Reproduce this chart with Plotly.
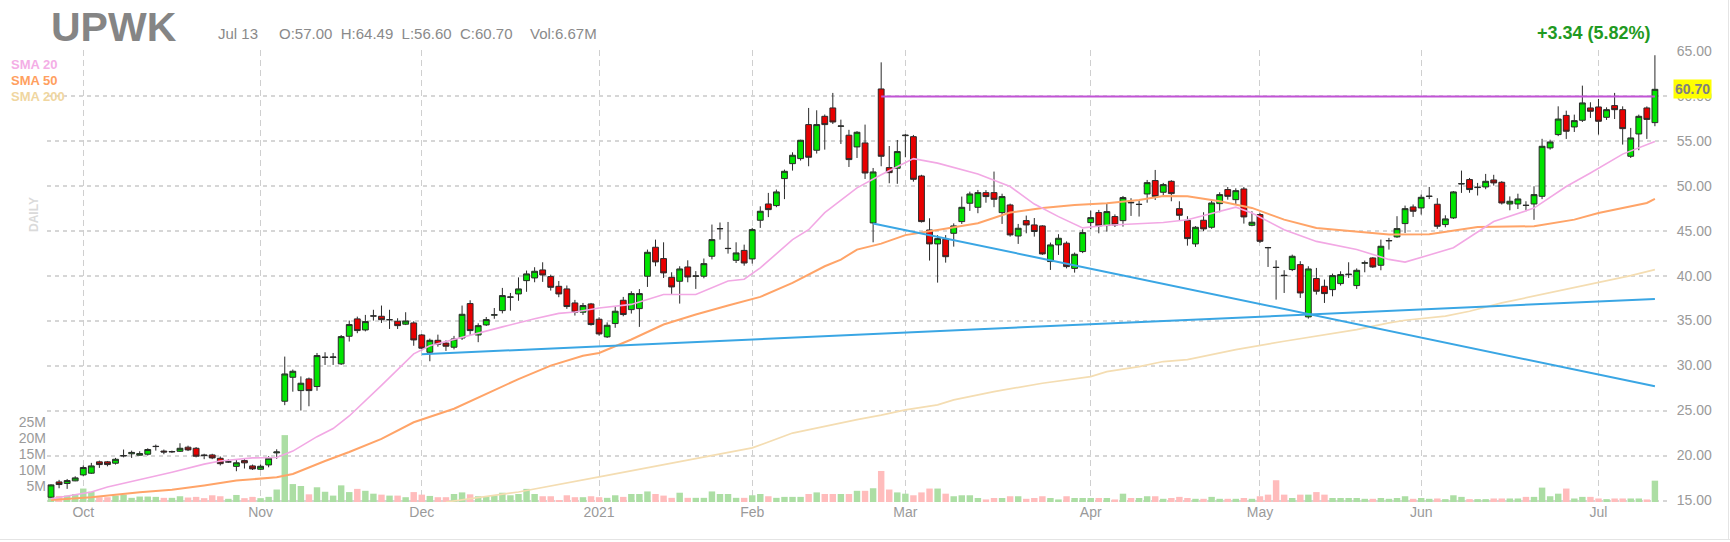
import pandas as pd
import plotly.graph_objects as go

# ---------------- data ----------------
holidays = ['2020-11-26', '2020-12-25', '2021-01-01', '2021-01-18',
            '2021-02-15', '2021-04-02', '2021-05-31']
dates = [d for d in pd.bdate_range('2020-09-25', '2021-07-13')
         if d.strftime('%Y-%m-%d') not in holidays]

opens = [15.37, 17.07, 16.9, 17.19, 17.85, 18.04, 19.3, 19.3, 19.15, 19.95,
         20.2, 20.04, 20.15, 21.0, 20.5, 20.4, 20.48, 20.93, 20.81, 20.07,
         20.07, 19.7, 19.3, 18.8, 19.44, 18.85, 18.48, 18.96, 20.3, 26.04,
         28.7, 27.22, 28.52, 27.67, 30.9, 30.9, 30.19, 33.26, 35.19, 33.96,
         35.5, 35.48, 35.1, 34.93, 34.6, 34.74, 33.4, 31.48, 32.81, 32.5,
         32.04, 33.07, 36.89, 33.4, 34.52, 35.6, 36.11, 37.6, 37.96, 39.44,
         39.74, 40.63, 39.89, 38.81, 38.52, 36.96, 35.93, 36.85, 35.15, 33.19,
         34.67, 37.26, 36.22, 36.33, 39.93, 43.15, 41.89, 39.81, 39.37, 40.96,
         39.93, 39.93, 42.15, 45.2, 43.0, 41.7, 42.8, 41.85, 46.15, 47.96,
         47.78, 50.78, 52.44, 53.0, 56.78, 53.93, 57.7, 58.63, 56.6, 55.6,
         54.3, 54.74, 45.85, 60.74, 52.0, 51.93, 55.55, 55.44, 51.07, 45.07,
         43.52, 44.04, 44.7, 46.0, 48.04, 47.59, 49.22, 49.22, 47.0, 47.85,
         44.4, 46.11, 45.63, 45.52, 41.56, 43.41, 43.6, 40.8, 42.67, 45.89,
         47.0, 45.56, 46.56, 46.11, 48.15, 47.9, 49.07, 50.56, 49.26, 50.48,
         47.44, 46.15, 43.52, 46.15, 45.37, 48.0, 49.56, 48.44, 49.63, 45.59,
         46.78, 43.12, 40.93, 40.04, 40.67, 41.22, 35.41, 39.67, 38.81, 38.44,
         39.11, 40.1, 38.89, 41.38, 41.96, 41.15, 43.85, 44.3, 45.78, 47.63,
         47.52, 48.8, 47.93, 45.67, 46.41, 50.18, 50.67, 49.78, 49.85, 50.63,
         50.37, 47.96, 47.96, 47.82, 47.96, 48.81, 54.19, 55.67, 57.8, 56.52,
         57.26, 58.63, 58.74, 57.59, 58.89, 58.44, 53.26, 55.74, 58.63, 57.00]
highs = [16.8, 17.3, 17.4, 17.7, 18.9, 19.19, 19.44, 19.4, 19.74, 20.67,
         20.55, 20.48, 20.81, 21.22, 20.67, 20.55, 21.37, 21.1, 20.95, 20.2,
         20.2, 19.9, 19.6, 19.5, 19.6, 19.0, 19.0, 19.93, 20.7, 31.0,
         29.56, 28.8, 28.67, 31.4, 31.48, 31.4, 33.4, 35.0, 35.44, 35.63,
         36.2, 36.67, 36.2, 35.26, 35.93, 34.93, 33.5, 33.0, 33.44, 32.8,
         33.3, 36.67, 37.26, 34.7, 35.4, 36.4, 38.63, 38.07, 39.8, 40.56,
         40.93, 41.48, 40.1, 39.4, 38.9, 37.3, 36.96, 36.96, 35.37, 34.8,
         36.6, 37.63, 38.26, 38.5, 42.89, 44.0, 43.7, 40.37, 41.04, 41.7,
         40.5, 41.9, 45.67, 45.9, 45.96, 43.7, 43.44, 45.3, 47.7, 49.19,
         49.56, 51.78, 53.7, 55.1, 58.63, 58.37, 57.9, 60.3, 57.33, 56.2,
         56.05, 56.78, 51.96, 63.7, 54.4, 55.07, 55.74, 55.63, 51.2, 46.37,
         44.5, 44.5, 45.8, 48.78, 49.33, 49.52, 49.5, 51.56, 49.1, 48.0,
         45.74, 46.67, 46.4, 45.6, 43.67, 44.6, 43.8, 42.56, 45.15, 47.22,
         47.3, 48.04, 46.8, 48.85, 48.6, 48.4, 50.63, 51.74, 50.3, 50.6,
         48.26, 46.6, 45.5, 47.04, 48.37, 49.26, 49.85, 49.7, 49.85, 47.15,
         46.96, 43.19, 41.7, 40.6, 42.33, 41.6, 41.04, 40.85, 39.56, 40.22,
         40.48, 41.48, 40.8, 41.67, 42.05, 44.0, 44.19, 46.6, 47.78, 47.9,
         49.0, 49.85, 48.6, 46.7, 49.4, 51.67, 50.85, 50.3, 51.3, 51.2,
         50.5, 48.8, 49.1, 48.26, 49.93, 55.2, 55.1, 58.81, 58.33, 57.89,
         61.11, 59.26, 59.63, 58.7, 60.3, 58.81, 56.41, 57.89, 58.8, 64.49]
lows = [15.3, 16.37, 16.3, 17.15, 17.7, 17.96, 18.63, 18.8, 19.0, 19.8,
        19.74, 20.0, 20.0, 20.55, 20.15, 20.3, 20.4, 20.5, 19.8, 19.6,
        19.6, 18.9, 19.2, 18.26, 18.56, 18.4, 18.4, 18.7, 19.63, 25.6,
        27.1, 25.0, 25.48, 27.2, 30.07, 30.07, 30.07, 32.67, 33.6, 33.8,
        35.0, 34.74, 34.07, 34.07, 34.5, 32.2, 31.67, 30.48, 32.1, 31.63,
        31.8, 32.85, 33.4, 32.6, 34.4, 35.2, 35.8, 36.1, 37.2, 38.2,
        39.26, 39.3, 38.33, 37.6, 36.3, 35.56, 35.63, 34.44, 33.33, 33.07,
        34.2, 35.48, 35.78, 34.3, 38.74, 41.04, 39.74, 37.96, 36.89, 39.26,
        38.52, 39.7, 41.8, 44.0, 42.44, 41.4, 41.1, 41.33, 45.3, 46.5,
        47.6, 48.5, 51.67, 52.78, 52.15, 53.56, 54.0, 56.85, 54.63, 52.07,
        53.07, 50.74, 43.7, 52.15, 50.26, 50.2, 53.15, 50.44, 45.9, 41.67,
        39.22, 41.44, 43.22, 45.74, 47.19, 46.93, 48.1, 47.6, 45.74, 44.33,
        43.52, 44.7, 44.33, 42.3, 40.63, 42.3, 40.8, 40.33, 42.5, 45.15,
        44.7, 44.89, 45.4, 45.44, 46.63, 46.56, 48.1, 48.4, 48.9, 48.26,
        46.15, 43.33, 43.19, 44.93, 45.2, 47.04, 48.44, 47.89, 45.78, 45.48,
        43.63, 40.96, 37.33, 38.07, 40.5, 37.52, 35.22, 37.89, 36.96, 37.7,
        38.89, 39.74, 38.52, 40.37, 40.85, 40.59, 42.89, 44.2, 44.74, 46.52,
        46.78, 48.5, 45.2, 45.37, 46.3, 49.19, 49.2, 48.9, 49.6, 50.0,
        47.9, 47.26, 47.4, 47.15, 46.2, 48.5, 54.0, 55.5, 55.19, 55.96,
        57.07, 57.52, 55.67, 57.3, 57.4, 54.56, 53.07, 53.93, 55.19, 56.60]
closes = [16.74, 16.78, 17.22, 17.52, 18.67, 18.85, 19.0, 19.0, 19.59, 20.0,
          20.35, 20.22, 20.67, 21.02, 20.4, 20.45, 20.81, 20.63, 19.93, 20.0,
          19.74, 19.1, 19.3, 19.2, 19.19, 18.52, 18.81, 19.7, 20.4, 29.07,
          29.37, 28.04, 27.22, 31.11, 30.93, 30.95, 33.22, 34.56, 33.89, 34.89,
          35.52, 35.1, 35.1, 34.44, 34.96, 32.85, 31.93, 32.81, 32.37, 32.15,
          32.96, 35.7, 33.89, 34.44, 35.11, 35.65, 37.78, 37.62, 38.52, 40.19,
          40.48, 40.07, 38.7, 37.96, 36.56, 35.93, 36.67, 34.56, 33.52, 34.48,
          36.04, 35.67, 38.0, 38.0, 42.59, 41.52, 40.3, 38.74, 40.74, 39.85,
          39.96, 41.33, 44.0, 45.22, 43.02, 42.52, 41.4, 45.11, 47.15, 47.33,
          49.3, 51.59, 53.37, 55.04, 53.15, 56.78, 56.78, 57.07, 56.62, 52.89,
          55.93, 51.4, 51.52, 53.26, 51.44, 53.78, 55.6, 50.7, 46.0, 43.52,
          44.11, 42.1, 45.52, 47.59, 49.07, 49.22, 48.78, 48.48, 48.78, 44.52,
          45.26, 45.63, 44.9, 42.41, 43.41, 44.15, 41.0, 42.37, 44.78, 46.44,
          45.52, 47.11, 45.63, 48.67, 48.1, 47.92, 50.33, 48.78, 50.11, 49.11,
          46.7, 44.11, 45.37, 45.19, 48.07, 49.0, 48.81, 49.44, 46.52, 45.93,
          43.81, 43.1, 40.9, 40.0, 42.15, 38.07, 40.74, 38.26, 38.0, 40.0,
          40.11, 40.15, 40.59, 41.42, 40.96, 43.26, 43.9, 45.22, 47.44, 47.15,
          48.7, 48.82, 45.48, 46.3, 49.3, 50.22, 49.56, 49.82, 50.48, 50.3,
          48.07, 48.26, 48.52, 47.8, 49.0, 54.37, 54.85, 57.4, 56.04, 57.22,
          59.19, 58.26, 57.15, 58.44, 58.44, 56.33, 55.3, 57.7, 57.36, 60.70]
volume_m = [2.0, 1.9, 2.0, 2.5, 4.2, 3.2, 1.5, 1.5, 2.0, 2.3,
            1.3, 1.7, 1.7, 1.6, 1.3, 1.3, 1.8, 1.4, 1.6, 1.2,
            2.1, 1.8, 1.0, 2.2, 1.2, 1.6, 1.2, 1.6, 3.9, 20.9,
            5.6, 5.0, 2.4, 4.6, 3.2, 2.0, 5.2, 3.1, 4.1, 3.5,
            2.6, 2.3, 2.0, 2.0, 1.5, 3.1, 2.3, 1.9, 1.5, 1.5,
            2.5, 3.0, 2.4, 1.8, 1.8, 2.1, 2.9, 2.1, 2.5, 4.1,
            2.5, 1.8, 1.8, 0.6, 2.1, 1.5, 1.5, 1.8, 1.5, 1.3,
            2.1, 1.6, 2.5, 2.5, 3.3, 2.5, 2.0, 1.3, 2.9, 1.3,
            1.3, 1.3, 3.3, 2.5, 2.5, 1.3, 1.3, 2.1, 2.5, 1.8,
            1.3, 1.6, 1.6, 1.6, 2.5, 3.0, 2.5, 2.5, 2.5, 2.5,
            3.5, 3.5, 4.3, 9.7, 3.9, 3.0, 2.6, 2.1, 3.0, 4.2,
            4.2, 2.6, 1.8, 2.1, 2.1, 1.25, 0.8, 1.25, 1.25, 1.8,
            1.8, 1.0, 1.25, 1.8, 1.25, 0.8, 1.8, 1.25, 1.25, 1.25,
            1.25, 1.25, 0.8, 2.6, 1.25, 1.25, 1.8, 1.8, 1.0, 1.25,
            1.6, 1.25, 1.0, 1.0, 1.6, 1.0, 1.0, 1.0, 1.25, 1.0,
            1.8, 2.3, 6.8, 2.3, 1.25, 2.3, 2.3, 3.1, 2.3, 1.25,
            1.25, 1.25, 1.25, 1.0, 1.0, 1.25, 1.0, 1.25, 1.8, 1.0,
            1.25, 1.0, 1.1, 0.9, 2.1, 1.6, 0.9, 0.9, 0.9, 1.1,
            1.1, 1.1, 1.1, 1.6, 1.6, 4.5, 1.8, 2.6, 4.2, 1.1,
            1.6, 1.6, 1.1, 0.9, 1.1, 1.1, 1.1, 1.1, 0.8, 6.67]

sma20_idx = [0, 5, 7, 11, 15, 19, 21, 25, 28, 30, 33, 35, 37, 41, 45, 47, 52, 56,
             60, 63, 65, 68, 72, 76, 80, 84, 86, 88, 92, 94, 96, 100, 103, 107,
             110, 115, 119, 122, 125, 128, 131, 135, 138, 141, 145, 147, 149, 153,
             157, 162, 166, 168, 171, 174, 179, 184, 188, 191, 195, 199]
sma20_val = [15.2, 15.95, 16.5, 17.3, 18.15, 19.05, 19.4, 19.74, 19.78, 20.5,
             22.1, 23.0, 24.4, 27.8, 31.3, 32.2, 33.4, 34.3, 35.2, 35.8, 35.95,
             36.4, 36.8, 37.9, 37.9, 39.4, 39.6, 40.85, 44.0, 45.1, 47.0, 49.75,
             51.2, 53.0, 52.5, 51.3, 49.9, 47.95, 46.55, 45.3, 45.6, 45.8, 45.9,
             46.2, 47.15, 47.6, 46.96, 45.1, 43.8, 42.9, 41.8, 41.5, 42.3, 43.1,
             46.0, 47.5, 49.9, 51.4, 53.5, 54.9]
sma50_idx = [0, 5, 11, 15, 19, 23, 28, 30, 34, 37, 41, 45, 50, 54, 58, 62, 66, 68,
             72, 76, 80, 84, 88, 92, 96, 98, 100, 103, 106, 110, 115, 119, 123,
             127, 131, 135, 138, 141, 145, 149, 153, 157, 162, 166, 171, 177, 184,
             189, 192, 195, 198, 199]
sma50_val = [15.07, 15.37, 15.93, 16.19, 16.67, 17.22, 17.59, 17.96, 19.4, 20.4,
             21.85, 23.7, 25.2, 26.85, 28.5, 30.0, 31.1, 31.4, 32.9, 34.56, 35.67,
             36.67, 37.63, 39.19, 41.04, 41.78, 42.89, 43.55, 44.5, 45.07, 45.81,
             47.0, 47.5, 47.85, 48.04, 48.41, 48.85, 48.81, 48.26, 47.52, 46.22,
             45.3, 44.93, 44.56, 44.6, 45.41, 45.48, 46.22, 46.96, 47.52, 48.07,
             48.52]
sma200_idx = [49, 58, 69, 76, 84, 87, 92, 96, 100, 103, 106, 110, 112, 117, 123,
              129, 131, 135, 138, 141, 147, 153, 158, 162, 166, 168, 173, 176, 180,
              184, 188, 192, 196, 199]
sma200_val = [14.84, 15.95, 17.8, 19.0, 20.3, 20.85, 22.5, 23.26, 24.0, 24.5,
              25.07, 25.63, 26.19, 27.11, 28.04, 28.78, 29.33, 29.89, 30.45, 30.67,
              31.78, 32.7, 33.44, 34.0, 34.74, 35.04, 35.5, 36.04, 36.96, 37.7,
              38.44, 39.19, 40.0, 40.67]

trend_up_idx = [46, 199]
trend_up_val = [31.26, 37.4]
trend_down_idx = [102, 199]
trend_down_val = [45.8, 27.7]
resist_idx = [103, 199]
resist_val = [59.9, 59.9]

price_ticks = [15, 20, 25, 30, 35, 40, 45, 50, 55, 60, 65]
vol_ticks_m = [5, 10, 15, 20, 25]

# ---------------- figure ----------------
n = len(dates)
xs = list(range(n))
month_idx = [i for i in range(1, n) if dates[i].month != dates[i - 1].month]
month_txt = [str(dates[i].year) if dates[i].month == 1 else dates[i].strftime('%b')
             for i in month_idx]

W, H = 1730, 542
ML, MR, MT, MB = 47, 63, 50, 40
PW, PH = W - ML - MR, H - MT - MB


def fx(px):
    return (px - ML) / PW


def fy(py):
    return 1 - (py - MT) / PH


vol_colors = ['#acdea4' if c >= o else '#ffbcbc' for o, c in zip(opens, closes)]

fig = go.Figure()
fig.add_trace(go.Bar(x=xs, y=[v * 1e6 for v in volume_m], marker_color=vol_colors,
                     marker_line_width=0, yaxis='y', hoverinfo='skip'))
fig.add_trace(go.Scatter(x=sma200_idx, y=sma200_val, mode='lines', yaxis='y2',
                         line=dict(color='#f4ddb2', width=1.7), hoverinfo='skip'))
fig.add_trace(go.Scatter(x=sma50_idx, y=sma50_val, mode='lines', yaxis='y2',
                         line=dict(color='#ffa468', width=2), hoverinfo='skip'))
fig.add_trace(go.Scatter(x=sma20_idx, y=sma20_val, mode='lines', yaxis='y2',
                         line=dict(color='#f2a8e4', width=1.6), hoverinfo='skip'))
for tx, ty, col in [(trend_up_idx, trend_up_val, '#3aa6e4'),
                    (trend_down_idx, trend_down_val, '#3aa6e4'),
                    (resist_idx, resist_val, '#c154d6')]:
    fig.add_trace(go.Scatter(x=tx, y=ty, mode='lines', yaxis='y2',
                             line=dict(color=col, width=2), hoverinfo='skip'))
fig.add_trace(go.Candlestick(
    x=xs, open=opens, high=highs, low=lows, close=closes, yaxis='y2',
    increasing=dict(fillcolor='#00e400', line=dict(color='#2a2a2a', width=1)),
    decreasing=dict(fillcolor='#e80000', line=dict(color='#2a2a2a', width=1)),
    whiskerwidth=0, hoverinfo='skip'))

tickfont = dict(family='Arial, Liberation Sans, sans-serif', size=14, color='#9a9a9a')
fig.update_layout(
    width=W, height=H, showlegend=False,
    margin=dict(l=ML, r=MR, t=MT, b=MB, autoexpand=False),
    paper_bgcolor='white', plot_bgcolor='white',
    font=dict(family='Arial, Liberation Sans, sans-serif'),
    bargap=0.2, boxgap=0.15, boxgroupgap=0.15,
    xaxis=dict(range=[-0.5, n - 0.5], tickmode='array', tickvals=month_idx,
               ticktext=month_txt, tickfont=tickfont, showgrid=True,
               gridcolor='#cfcfcf', griddash='6px,4px', gridwidth=1,
               zeroline=False, showline=False, ticks='', rangeslider=dict(visible=False),
               fixedrange=True),
    yaxis=dict(range=[0, PH / 3.2 * 1e6], side='left', tickmode='array',
               tickvals=[v * 1e6 for v in vol_ticks_m],
               ticktext=['%dM' % v for v in vol_ticks_m], tickfont=tickfont,
               showgrid=False, zeroline=False, showline=False, ticks=''),
    yaxis2=dict(range=[14.84, 65.07], side='right', overlaying='y', tickmode='array',
                tickvals=price_ticks, ticktext=['%.2f' % v for v in price_ticks],
                tickfont=tickfont, showgrid=True, gridcolor='#d6d6d6',
                griddash='4px,4px', gridwidth=1.5, zeroline=False, showline=False,
                ticks='outside', ticklen=6, tickcolor='rgba(0,0,0,0)'),
    shapes=[
        dict(type='line', xref='paper', yref='paper', x0=fx(0), x1=fx(W),
             y0=fy(539.5), y1=fy(539.5), line=dict(color='#e4e4e4', width=1)),
        dict(type='line', xref='paper', yref='paper', x0=fx(1728.5), x1=fx(1728.5),
             y0=fy(0), y1=fy(540), line=dict(color='#e4e4e4', width=1)),
    ],
)

gray = '#8a8a8a'
anns = [
    dict(text='<b>UPWK</b>', x=fx(49), y=fy(27), xanchor='left', yanchor='middle',
         font=dict(size=41, color='#858585')),
    dict(text='Jul 13', x=fx(216), y=fy(34), xanchor='left', yanchor='middle',
         font=dict(size=15, color=gray)),
    dict(text='O:57.00  H:64.49  L:56.60  C:60.70', x=fx(277), y=fy(34),
         xanchor='left', yanchor='middle', font=dict(size=15, color=gray)),
    dict(text='Vol:6.67M', x=fx(528), y=fy(34), xanchor='left', yanchor='middle',
         font=dict(size=15, color=gray)),
    dict(text='<b>+3.34 (5.82%)</b>', x=fx(1653), y=fy(33), xanchor='right',
         yanchor='middle', font=dict(size=18, color='#1f9a22')),
    dict(text='<b>SMA 20</b>', x=fx(9), y=fy(64), xanchor='left', yanchor='middle',
         font=dict(size=13, color='#f4aee6')),
    dict(text='<b>SMA 50</b>', x=fx(9), y=fy(80), xanchor='left', yanchor='middle',
         font=dict(size=13, color='#ffa060')),
    dict(text='<b>SMA 200</b>', x=fx(9), y=fy(96), xanchor='left', yanchor='middle',
         font=dict(size=13, color='#f0d6a0')),
    dict(text='<b>DAILY</b>', x=fx(34), y=fy(215), xanchor='center', yanchor='middle',
         textangle=-90, font=dict(size=12, color='#dadada')),
    dict(text='<b>%.2f</b>' % closes[-1], x=fx(1673), y=closes[-1], yref='y2',
         xanchor='left', yanchor='middle', bgcolor='#ffff00', borderpad=1,
         font=dict(size=14, color='#808080')),
]
for a in anns:
    a.setdefault('xref', 'paper')
    a.setdefault('yref', 'paper')
    a['showarrow'] = False
fig.update_layout(annotations=anns)

fig.write_html('out.html')
